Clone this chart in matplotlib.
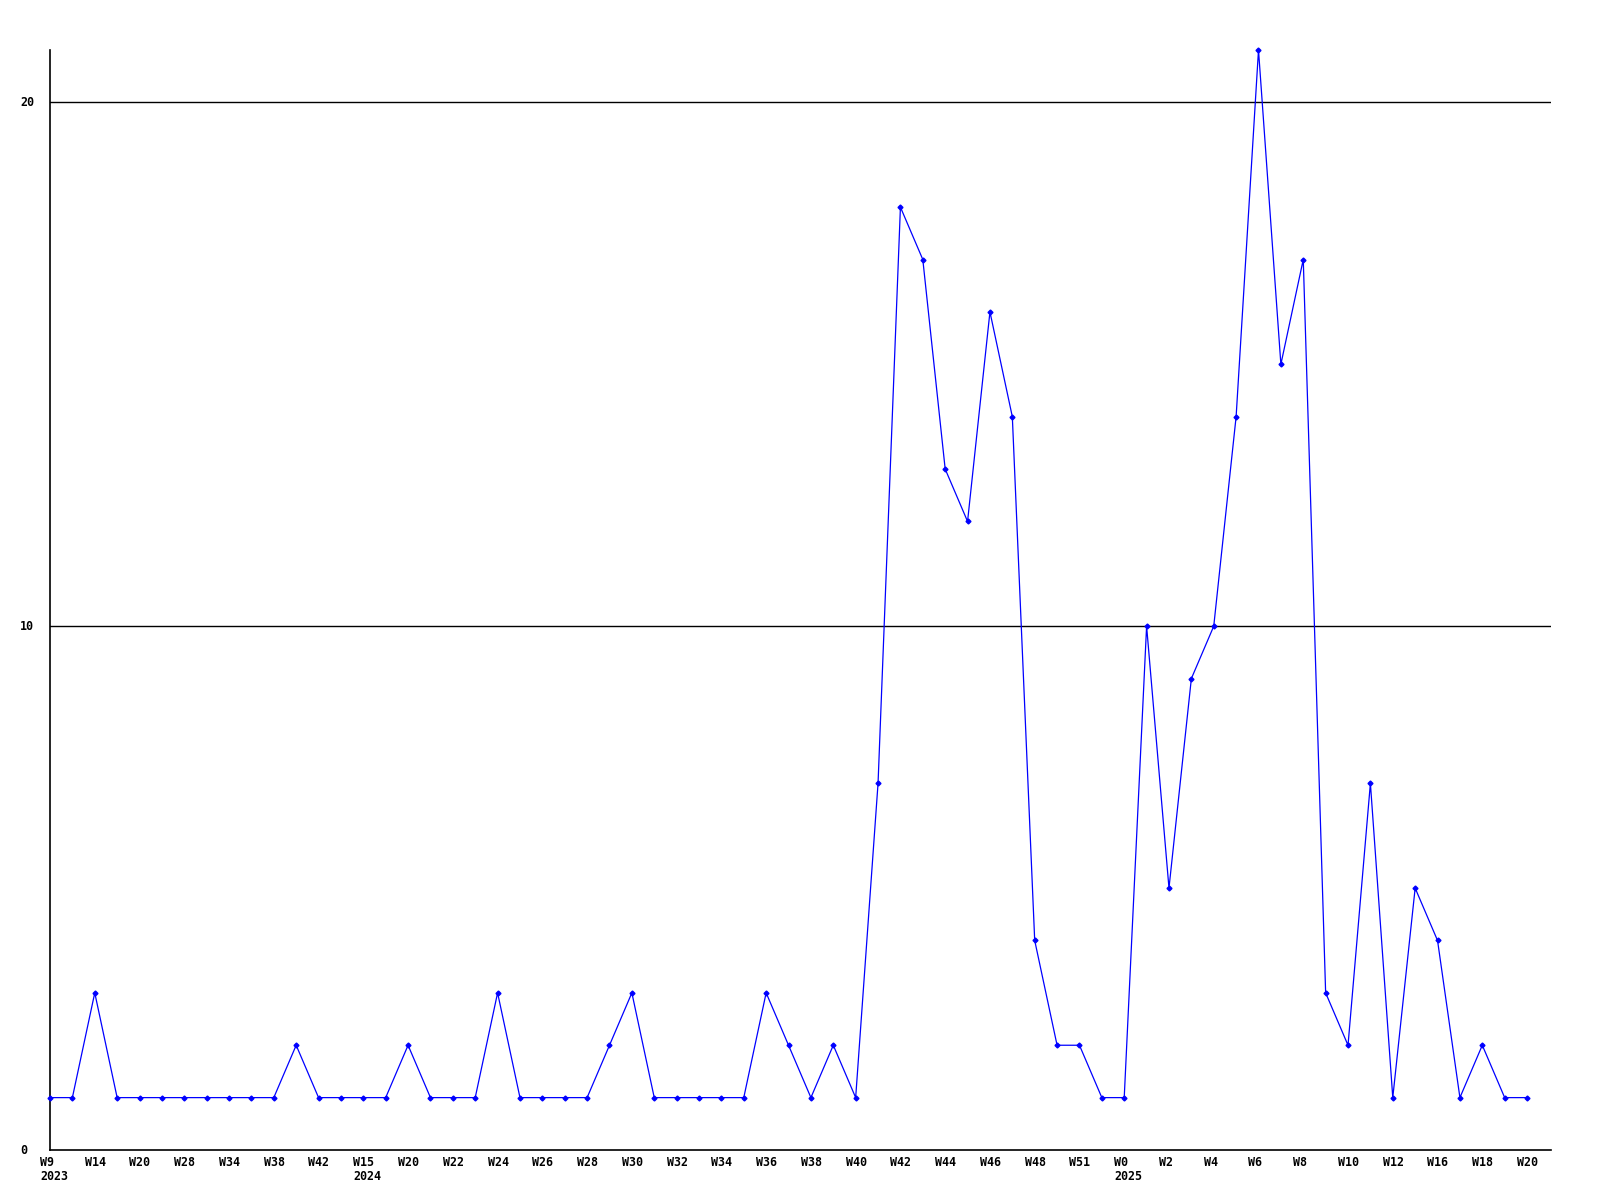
import matplotlib
matplotlib.use("Agg")
import matplotlib.pyplot as plt
from matplotlib.transforms import blended_transform_factory

# weekly counts, one per week
values = [1, 1, 3, 1, 1, 1, 1, 1, 1, 1, 1, 2, 1, 1, 1, 1, 2, 1, 1, 1,
          3, 1, 1, 1, 1, 2, 3, 1, 1, 1, 1, 1, 3, 2, 1, 2, 1, 7, 18, 17,
          13, 12, 16, 14, 4, 2, 2, 1, 1, 10, 5, 9, 10, 14, 21, 15, 17, 3, 2, 7,
          1, 5, 4, 1, 2, 1, 1]

# label on every second point
week_labels = ["W9", "W14", "W20", "W28", "W34", "W38", "W42", "W15", "W20", "W22",
               "W24", "W26", "W28", "W30", "W32", "W34", "W36", "W38", "W40", "W42",
               "W44", "W46", "W48", "W51", "W0", "W2", "W4", "W6", "W8", "W10",
               "W12", "W16", "W18", "W20"]
year_labels = {0: "2023", 7: "2024", 24: "2025"}

y_ticks = [0, 10, 20]

font = {"family": "DejaVu Sans Mono", "weight": "bold", "size": 8.4}

fig = plt.figure(figsize=(16, 12), dpi=100)
ax = fig.add_axes([50 / 1600, 1 - 1150 / 1200, 1501 / 1600, 1100 / 1200])

x = list(range(len(values)))
ax.plot(x, values, color="#0000ff", lw=0.9, marker="D", ms=2.5, zorder=3, clip_on=False)

ax.set_xlim(0, 67.07)
ax.set_ylim(0, 21)

for spine in ["top", "right"]:
    ax.spines[spine].set_visible(False)
for spine in ["left", "bottom"]:
    ax.spines[spine].set_linewidth(1.2)
    ax.spines[spine].set_color("black")

for t in y_ticks[1:]:
    ax.axhline(t, color="black", lw=1, zorder=1)

ax.set_xticks([])
ax.set_yticks([])

# y labels, left aligned at fixed pixel column
ty = blended_transform_factory(fig.transFigure, ax.transData)
for t in y_ticks:
    fig.text(20 / 1600, t, str(t), transform=ty, ha="left", va="center", **font)

tx = blended_transform_factory(ax.transData, fig.transFigure)
for i, lab in enumerate(week_labels):
    xi = i * 2 - 0.45
    fig.text(xi, 1 - 1162 / 1200, lab, transform=tx, ha="left", va="center", **font)
    if i in year_labels:
        fig.text(xi, 1 - 1177 / 1200, year_labels[i], transform=tx, ha="left", va="center", **font)

fig.savefig("out.png", dpi=100)
